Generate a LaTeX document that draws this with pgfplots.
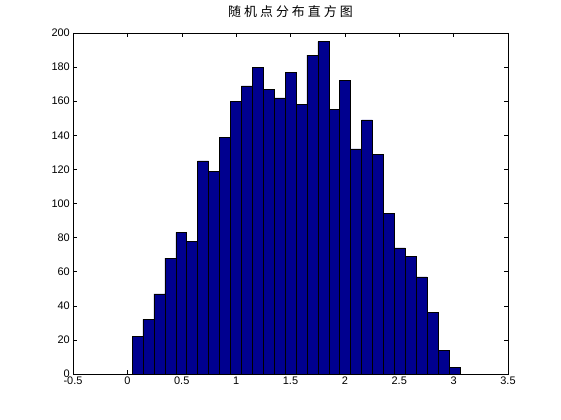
\documentclass[border=0pt]{standalone}
\usepackage{pgfplots}
\pgfplotsset{compat=1.18}
\usepackage{fontspec}
\setmainfont{Liberation Sans}
\newfontfamily\cjk{Noto Sans CJK SC}
\definecolor{mblue}{RGB}{0,0,143}
\begin{document}
\begin{tikzpicture}
\useasboundingbox (-73bp,-46bp) rectangle (488bp,374bp);
\begin{axis}[
  scale only axis,
  width=435bp, height=341bp,
  at={(0,0)}, anchor=south west,
  xmin=-0.5, xmax=3.5, ymin=0, ymax=200,
  xtick={-0.5,0,0.5,1,1.5,2,2.5,3,3.5},
  xticklabels={-0.5,0,0.5,1,1.5,2,2.5,3,3.5},
  ytick={0,20,40,60,80,100,120,140,160,180,200},
  tick align=inside,
  major tick length=4bp,
  tick style={black, line width=0.5pt},
  axis line style={line width=0.5pt},
  ticklabel style={font=\fontsize{11}{13}\selectfont},
  xticklabel style={yshift=-2bp, inner sep=1bp},
  yticklabel style={inner sep=1bp, xshift=-2bp},
  /pgf/number format/assume math mode=true,
  title={\cjk 随\hspace{3bp}机\hspace{3bp}点\hspace{3bp}分\hspace{3bp}布\hspace{3bp}直\hspace{3bp}方\hspace{3bp}图},
  title style={at={(0.5,1)}, anchor=base, yshift=11bp, inner sep=0pt, font=\fontsize{13}{15}\selectfont},
]
\addplot[ybar interval, fill=mblue, draw=black, line width=0.5pt] coordinates {
(0.0430,22) (0.1435,32) (0.2440,47) (0.3445,68) (0.4450,83)
(0.5455,78) (0.6460,125) (0.7465,119) (0.8470,139) (0.9475,160)
(1.0480,169) (1.1485,180) (1.2490,167) (1.3495,162) (1.4500,177)
(1.5505,158) (1.6510,187) (1.7515,195) (1.8520,155) (1.9525,172)
(2.0530,132) (2.1535,149) (2.2540,129) (2.3545,94) (2.4550,74)
(2.5555,69) (2.6560,57) (2.7565,36) (2.8570,14) (2.9575,4)
(3.0580,4)
};
\end{axis}
\end{tikzpicture}
\end{document}
